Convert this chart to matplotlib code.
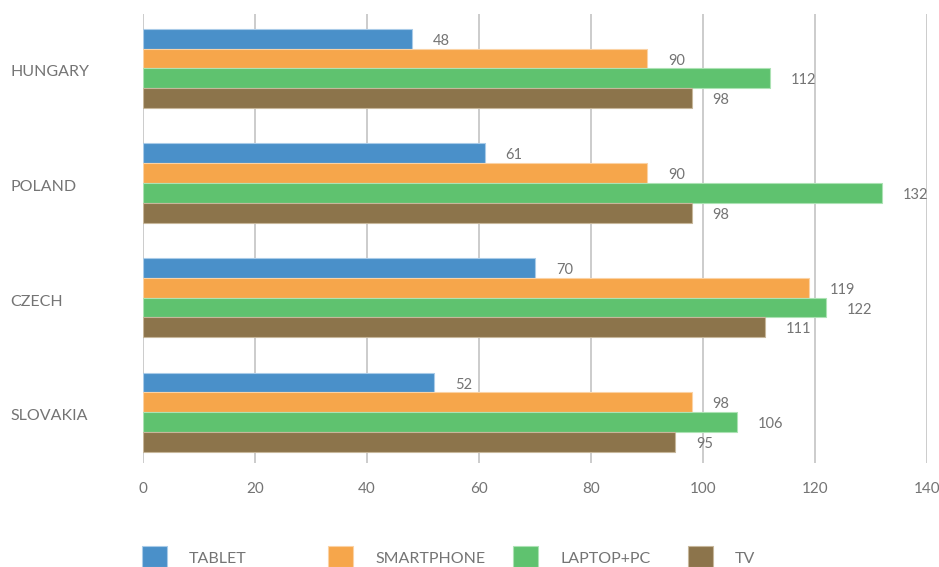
import matplotlib.pyplot as plt
import matplotlib.transforms as mtransforms
from matplotlib.patches import Rectangle
import numpy as np

COUNTRIES = ["HUNGARY", "POLAND", "CZECH", "SLOVAKIA"]
SERIES = ["TABLET", "SMARTPHONE", "LAPTOP+PC", "TV"]
TABLET = [48, 61, 70, 52]
SMARTPHONE = [90, 90, 119, 98]
LAPTOP_PC = [112, 132, 122, 106]
TV = [98, 98, 111, 95]
X_TICKS = [0, 20, 40, 60, 80, 100, 120, 140]

COLORS = ["#4A90C9", "#F6A64B", "#5FC26F", "#8C744B"]
EDGES = ["#A9CBE8", "#FBD2A4", "#ACE2B4", "#C7B79B"]
TEXT = "#747474"
FONT = "Lato"

plt.rcParams["font.family"] = [FONT, "DejaVu Sans"]

fig = plt.figure(figsize=(9.39, 5.67), dpi=100)
ax = fig.add_axes([143 / 939, 1 - 463 / 567, 784 / 939, 449 / 567])

values = [TABLET, SMARTPHONE, LAPTOP_PC, TV]
bar_h = 0.1725
y = np.arange(len(COUNTRIES))
for i, (vals, color, edge) in enumerate(zip(values, COLORS, EDGES)):
    pos = y + (i - 1.5) * bar_h
    ax.barh(pos, vals, height=bar_h, color=color, edgecolor=edge,
            linewidth=0.8, zorder=3)
    for p, v in zip(pos, vals):
        ax.annotate(str(v), (v, p), xytext=(15, -1.5), textcoords="offset points",
                    ha="left", va="center", fontsize=10.5, color=TEXT)

ax.set_xlim(0, 140)
ax.set_ylim(3.444, -0.475)
ax.set_xticks(X_TICKS)
ax.set_xticklabels([str(t) for t in X_TICKS], fontsize=11, color=TEXT)
ax.set_yticks([])
ax.tick_params(axis="x", length=0, pad=14)
ax.xaxis.grid(True, color="#C8C8C8", linewidth=1.3, zorder=0)
ax.set_axisbelow(True)
for s in ax.spines.values():
    s.set_visible(False)

# country names sit at the left edge of the figure
trans = mtransforms.blended_transform_factory(fig.transFigure, ax.transData)
for yy, name in zip(y, COUNTRIES):
    ax.text(10 / 939, yy + 0.035, name, transform=trans, ha="left", va="center",
            fontsize=11.5, color=TEXT)

# legend row along the bottom edge
legend_x = [142, 328, 513, 688]
for lx, color, edge, name in zip(legend_x, COLORS, EDGES, SERIES):
    fig.patches.append(Rectangle((lx / 939, 0), 25 / 939, 21 / 567,
                                 transform=fig.transFigure, facecolor=color,
                                 edgecolor=edge, linewidth=0.8))
    fig.text((lx + 47) / 939, 1 - 559 / 567, name, ha="left", va="center",
             fontsize=11.5, color=TEXT)

fig.savefig("out.png", dpi=100, facecolor="white")
